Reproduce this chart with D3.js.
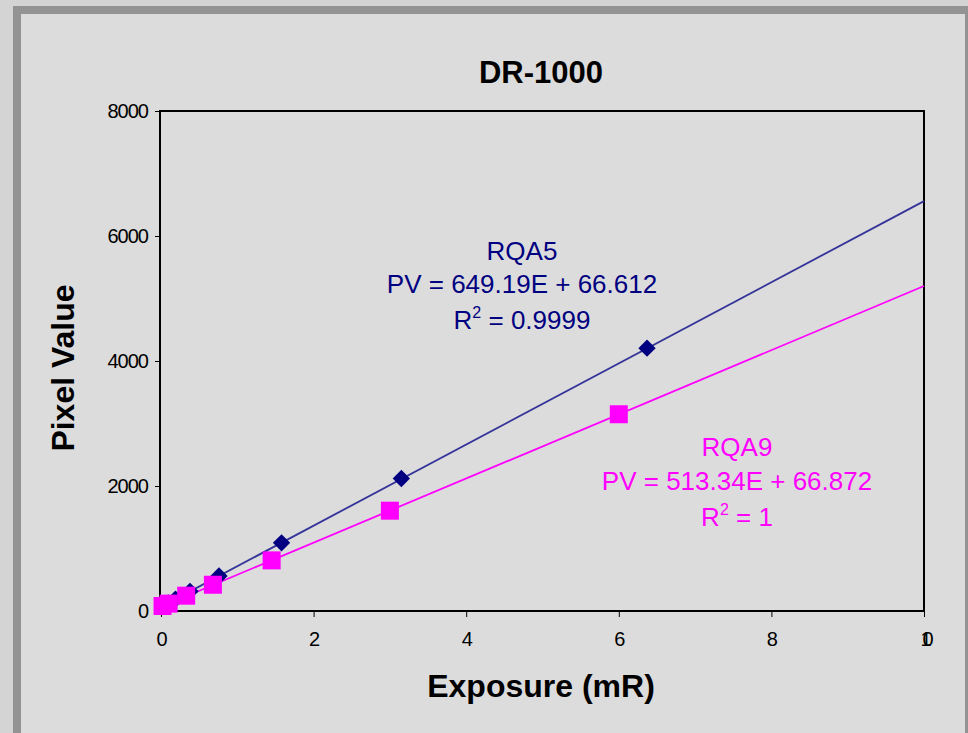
<!DOCTYPE html>
<html><head><meta charset="utf-8">
<script src="https://cdn.jsdelivr.net/npm/d3@7"></script>
<style>body{margin:0;background:#d4d4d4;}svg{display:block;font-family:"Liberation Sans",Arial,sans-serif;}</style>
</head><body>
<svg id="c" width="968" height="733"></svg>
<script>
const rqa5E = [0.048, 0.095, 0.19, 0.38, 0.76, 1.58, 3.15, 6.37];
const rqa5PV = [98, 128, 190, 315, 560, 1090, 2120, 4205];
const rqa9E = [0.02, 0.1, 0.33, 0.68, 1.45, 3.0, 6.0];
const rqa9PV = [80, 118, 245, 420, 810, 1605, 3148];
const fit5 = {slope: 649.19, intercept: 66.612};
const fit9 = {slope: 513.34, intercept: 66.872};
const xTicks = [0, 2, 4, 6, 8, 10];
const yTicks = [0, 2000, 4000, 6000, 8000];

const svg = d3.select("#c");
svg.append("rect").attr("x",17).attr("y",10).attr("width",952).attr("height",740)
  .attr("fill","#dcdcdc").attr("stroke","#939393").attr("stroke-width",8);

const x = d3.scaleLinear().domain([0,10]).range([161,924]);
const y = d3.scaleLinear().domain([0,8000]).range([611,111]);

svg.append("rect").attr("x",160).attr("y",111).attr("width",764).attr("height",500)
  .attr("fill","none").attr("stroke","#000").attr("stroke-width",2);

const ya = svg.append("g").attr("transform","translate(160,0)")
  .call(d3.axisLeft(y).tickValues(yTicks).tickSize(5).tickPadding(7).tickFormat(d3.format("d")));
const xa = svg.append("g").attr("transform","translate(0,611)")
  .call(d3.axisBottom(x).tickValues(xTicks).tickSize(6).tickPadding(15).tickFormat(d3.format("d")));
[ya, xa].forEach(a => {
  a.attr("font-size", null).attr("font-family", null);
  a.select(".domain").remove();
  a.selectAll("line").attr("stroke","#000");
  a.selectAll("text").attr("font-size",20).attr("fill","#000").attr("letter-spacing","-1px");
});
xa.selectAll("text").filter(d => d === 10).attr("letter-spacing","-9px").attr("dx", -2);

// trendlines
const line = d3.line().x(d => x(d[0])).y(d => y(d[1]));
svg.append("path").datum([0,10].map(e => [e, fit5.slope*e + fit5.intercept]))
  .attr("d", line).attr("stroke","#333399").attr("stroke-width",1.8).attr("fill","none");
svg.append("path").datum([0,10].map(e => [e, fit9.slope*e + fit9.intercept]))
  .attr("d", line).attr("stroke","#ff00ff").attr("stroke-width",1.8).attr("fill","none");

// markers
svg.append("g").selectAll("path").data(rqa5E.map((e,i)=>[e, rqa5PV[i]])).join("path")
  .attr("d", d3.symbol(d3.symbolSquare, 150))
  .attr("transform", d => `translate(${x(d[0])},${y(d[1])}) rotate(45)`)
  .attr("fill","#000080");
svg.append("g").selectAll("rect").data(rqa9E.map((e,i)=>[e, rqa9PV[i]])).join("rect")
  .attr("x", d => x(d[0]) - 9).attr("y", d => y(d[1]) - 9)
  .attr("width", 18).attr("height", 18).attr("fill","#ff00ff");

// labels
svg.append("text").attr("x",541).attr("y",83).attr("text-anchor","middle")
  .attr("font-size",31).attr("font-weight","bold").text("DR-1000");
svg.append("text").attr("x",541).attr("y",697).attr("text-anchor","middle")
  .attr("font-size",32).attr("font-weight","bold").text("Exposure (mR)");
svg.append("text").attr("transform","translate(74,368) rotate(-90)").attr("text-anchor","middle")
  .attr("font-size",32).attr("font-weight","bold").text("Pixel Value");

function annot(cx, ys, color, name, eq, r2) {
  const g = svg.append("g").attr("fill", color).attr("font-size", 26).attr("text-anchor","middle");
  g.append("text").attr("x", cx).attr("y", ys[0]).text(name);
  g.append("text").attr("x", cx).attr("y", ys[1]).text(eq);
  const t = g.append("text").attr("x", cx).attr("y", ys[2]);
  t.append("tspan").text("R");
  t.append("tspan").attr("font-size",16).attr("dy",-11).text("2");
  t.append("tspan").attr("dy",11).text(" = " + r2);
}
annot(522, [260, 293, 329], "#000080", "RQA5", `PV = ${fit5.slope}E + ${fit5.intercept}`, "0.9999");
annot(737, [456, 490, 526], "#ff00ff", "RQA9", `PV = ${fit9.slope}E + ${fit9.intercept}`, "1");
</script>
</body></html>
